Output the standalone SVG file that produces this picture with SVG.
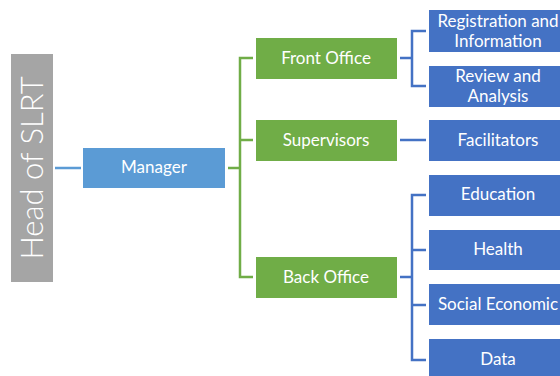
<svg xmlns="http://www.w3.org/2000/svg" width="560" height="376" viewBox="0 0 560 376">
<style>
  text { font-family: Lato, "Liberation Sans", sans-serif; fill: #ffffff; text-anchor: middle; dominant-baseline: central; font-size: 17px; }
  .grey { fill: #a5a5a5; }
  .lblue { fill: #5b9bd5; }
  .green { fill: #70ad47; }
  .blue { fill: #4472c4; }
  .cg { stroke: #70ad47; stroke-width: 2.5; fill: none; }
  .cb { stroke: #4472c4; stroke-width: 2.5; fill: none; }
  .cl { stroke: #5b9bd5; stroke-width: 2.5; fill: none; }
</style>
<rect width="560" height="376" fill="#ffffff"/>
<g id="connectors">
  <path class="cl" d="M55,168 H81"/>
  <path class="cg" d="M228,168 H240 M253,58 H240 V277 H253 M240,140 H253"/>
  <path class="cb" d="M400,58 H412 M426,31 H412 V86 H426"/>
  <path class="cb" d="M400,140 H426"/>
  <path class="cb" d="M400,277 H412 M426,195 H412 V360 H426 M412,250 H426 M412,305 H426"/>
</g>
<g id="head"><rect class="grey" x="11" y="54" width="42" height="228"/>
  <text transform="translate(31,168) rotate(-90)" style="font-size:31px;font-weight:300">Head of SLRT</text></g>
<g id="manager"><rect class="lblue" x="83" y="148" width="142" height="40"/><text x="154" y="166.5">Manager</text></g>
<g id="front-office"><rect class="green" x="256" y="38" width="141" height="41"/><text x="326" y="57.5">Front Office</text></g>
<g id="supervisors"><rect class="green" x="256" y="120" width="141" height="41"/><text x="326" y="139.5">Supervisors</text></g>
<g id="back-office"><rect class="green" x="256" y="257" width="141" height="41"/><text x="326" y="276.5">Back Office</text></g>
<g id="registration"><rect class="blue" x="429" y="10" width="140" height="42"/><text x="498" y="20">Registration and</text><text x="498" y="40">Information</text></g>
<g id="review"><rect class="blue" x="429" y="66" width="140" height="41"/><text x="498" y="75">Review and</text><text x="498" y="95">Analysis</text></g>
<g id="facilitators"><rect class="blue" x="429" y="120" width="140" height="41"/><text x="498" y="139.5">Facilitators</text></g>
<g id="education"><rect class="blue" x="429" y="175" width="140" height="41"/><text x="498" y="193.5">Education</text></g>
<g id="health"><rect class="blue" x="429" y="230" width="140" height="40"/><text x="498" y="248.5">Health</text></g>
<g id="social-economic"><rect class="blue" x="429" y="284" width="140" height="41"/><text x="498" y="303.5">Social Economic</text></g>
<g id="data"><rect class="blue" x="429" y="339" width="140" height="41"/><text x="498" y="358.5">Data</text></g>
</svg>
